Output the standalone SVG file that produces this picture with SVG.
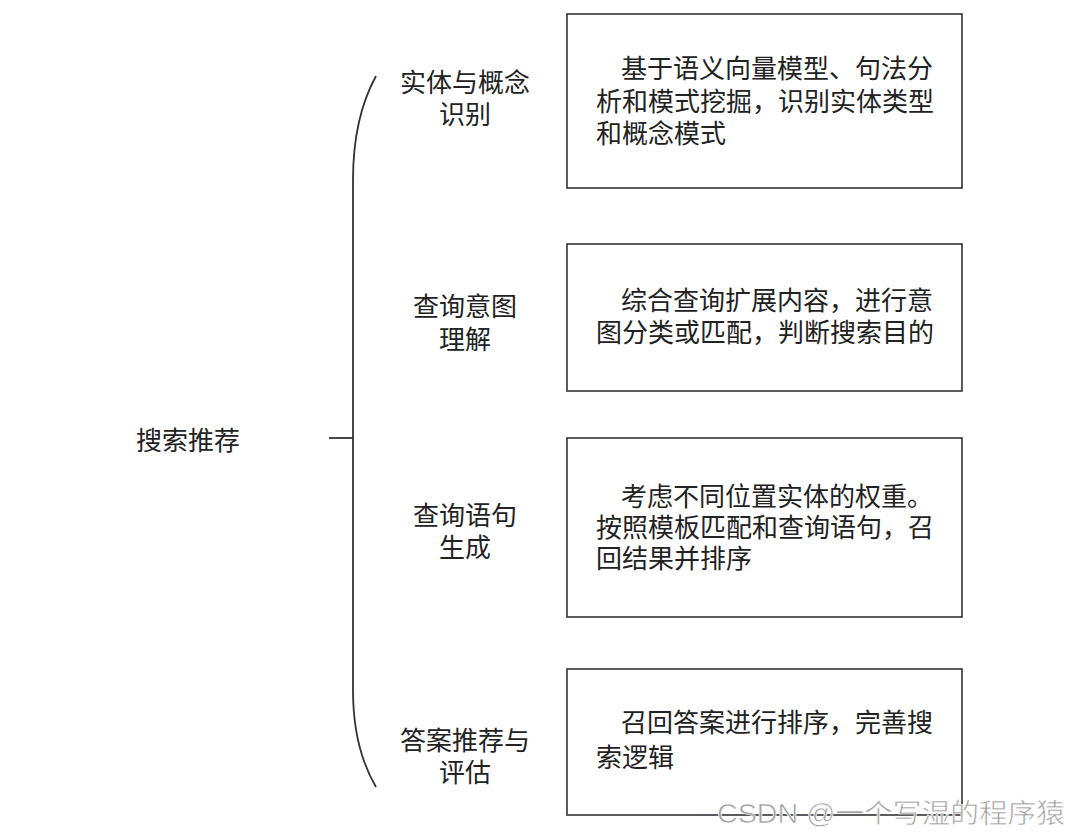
<svg xmlns="http://www.w3.org/2000/svg" width="1080" height="838" viewBox="0 0 1080 838">
<style>
.t{font-family:"Noto Sans CJK SC","Noto Sans CJK JP",sans-serif;font-size:26px;fill:#222;}
.m{text-anchor:middle;}
.box{fill:#fff;stroke:#333;stroke-width:1.6;}
.ln{fill:none;stroke:#333;stroke-width:1.8;}
.wm{font-family:"Liberation Sans","Noto Sans CJK SC",sans-serif;font-size:27px;fill:#a0a0a0;stroke:#fff;stroke-width:0.6;}
</style>
<rect width="1080" height="838" fill="#fff"/>
<g id="connectors">
<path class="ln" d="M376,76 Q353,118 353,180 L353,690 Q353,748 376,787"/>
<path class="ln" d="M329,438 H353"/>
</g>
<g id="root"><text class="t m" x="188" y="450">搜索推荐</text></g>
<g id="label1"><text class="t m" x="465" y="92">实体与概念</text><text class="t m" x="465" y="124">识别</text></g>
<g id="label2"><text class="t m" x="465" y="316">查询意图</text><text class="t m" x="465" y="349">理解</text></g>
<g id="label3"><text class="t m" x="465" y="525">查询语句</text><text class="t m" x="465" y="557">生成</text></g>
<g id="label4"><text class="t m" x="465" y="750">答案推荐与</text><text class="t m" x="465" y="782">评估</text></g>
<g id="box1"><rect class="box" x="567" y="14" width="395" height="174"/>
<text class="t" x="621" y="78">基于语义向量模型、句法分</text>
<text class="t" x="596" y="111">析和模式挖掘，识别实体类型</text>
<text class="t" x="596" y="143">和概念模式</text></g>
<g id="box2"><rect class="box" x="567" y="244" width="395" height="147"/>
<text class="t" x="621" y="310">综合查询扩展内容，进行意</text>
<text class="t" x="596" y="342">图分类或匹配，判断搜索目的</text></g>
<g id="box3"><rect class="box" x="567" y="438" width="395" height="179"/>
<text class="t" x="621" y="506">考虑不同位置实体的权重。</text>
<text class="t" x="596" y="537">按照模板匹配和查询语句，召</text>
<text class="t" x="596" y="568">回结果并排序</text></g>
<g id="box4"><rect class="box" x="567" y="669" width="395" height="146"/>
<text class="t" x="621" y="732">召回答案进行排序，完善搜</text>
<text class="t" x="596" y="767">索逻辑</text></g>
<text class="wm" x="717" y="823" textLength="348" lengthAdjust="spacingAndGlyphs">CSDN @一个写湿的程序猿</text>
</svg>
